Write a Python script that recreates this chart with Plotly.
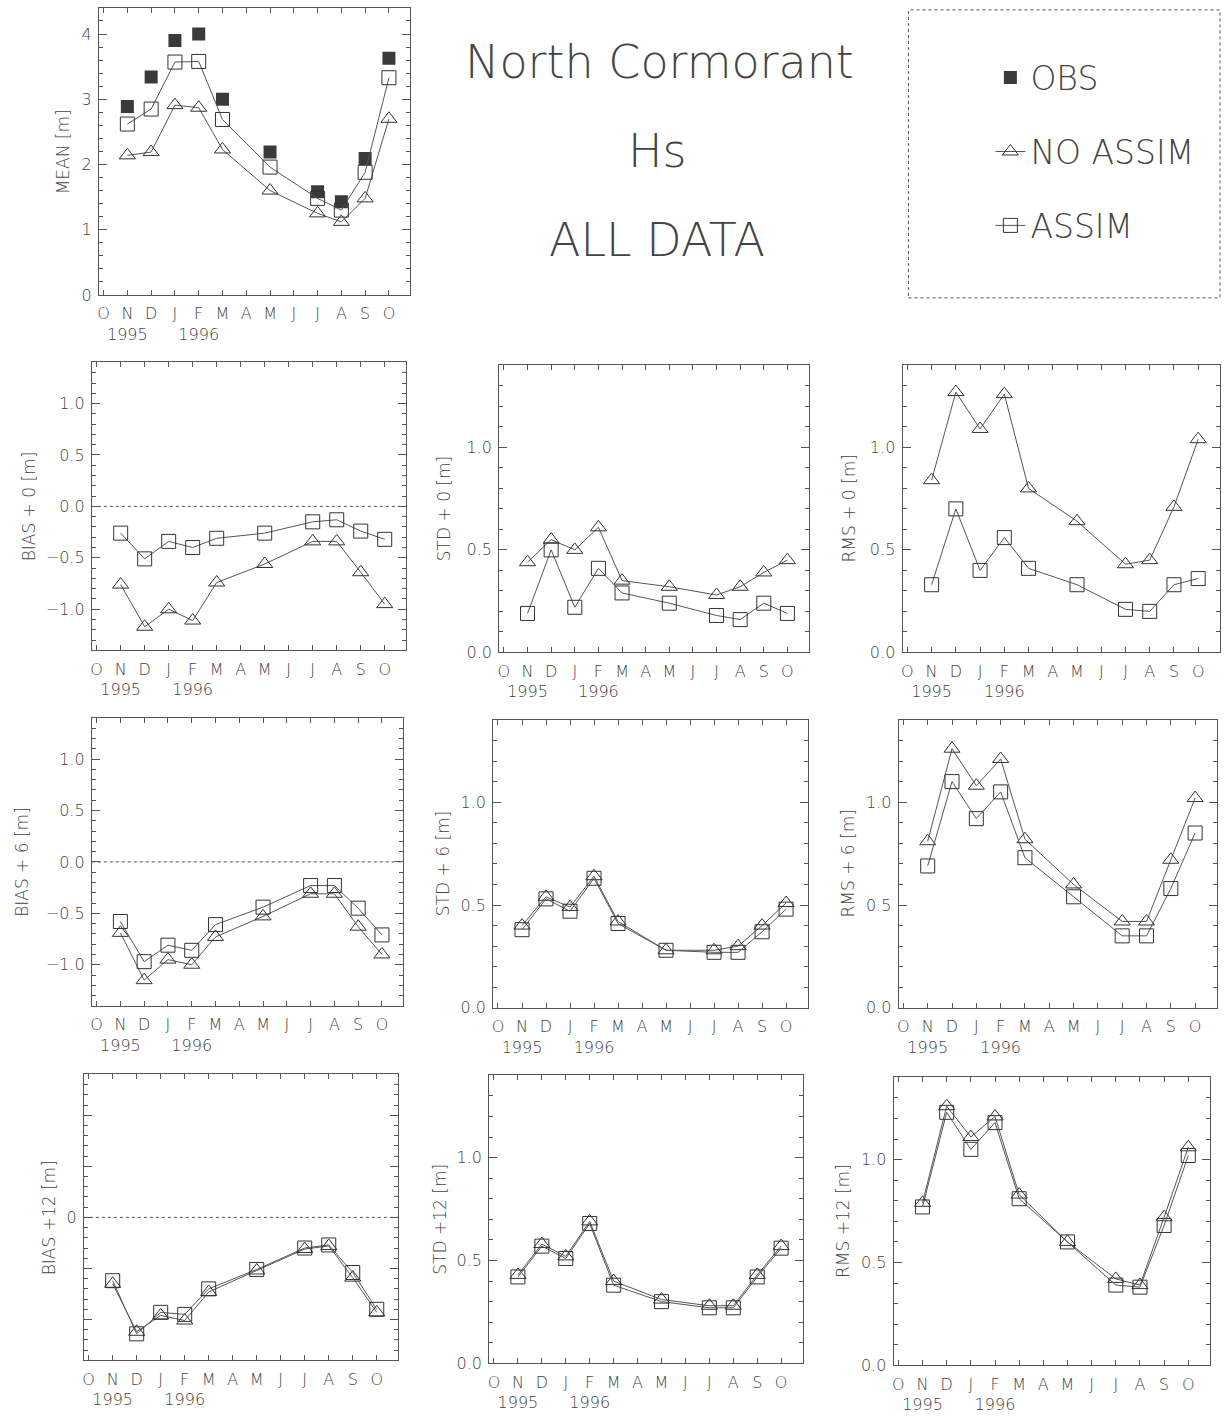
import plotly.graph_objects as go

W, H = 1224, 1421

# ---------------- data ----------------
month_labels = ["O", "N", "D", "J", "F", "M", "A", "M", "J", "J", "A", "S", "O"]
year_labels = ["", "1995", "", "", "1996", "", "", "", "", "", "", "", ""]
# months with data: N D J F M May Jul Aug Sep Oct (index into month_labels)
data_month_index = [1, 2, 3, 4, 5, 7, 9, 10, 11, 12]

mean_obs = [2.89, 3.34, 3.90, 4.00, 3.00, 2.19, 1.58, 1.43, 2.09, 3.63]
mean_noassim = [2.14, 2.19, 2.91, 2.87, 2.23, 1.60, 1.25, 1.12, 1.48, 2.70]
mean_assim = [2.62, 2.85, 3.57, 3.58, 2.69, 1.96, 1.48, 1.30, 1.88, 3.33]

bias0_noassim = [-0.76, -1.17, -1.00, -1.11, -0.74, -0.56, -0.34, -0.34, -0.64, -0.95]
bias0_assim = [-0.26, -0.51, -0.34, -0.40, -0.31, -0.26, -0.15, -0.13, -0.24, -0.32]
std0_noassim = [0.44, 0.55, 0.50, 0.61, 0.35, 0.32, 0.28, 0.32, 0.39, 0.45]
std0_assim = [0.19, 0.50, 0.22, 0.41, 0.29, 0.24, 0.18, 0.16, 0.24, 0.19]
rms0_noassim = [0.84, 1.27, 1.09, 1.26, 0.80, 0.64, 0.43, 0.45, 0.71, 1.04]
rms0_assim = [0.33, 0.70, 0.40, 0.56, 0.41, 0.33, 0.21, 0.20, 0.33, 0.36]

bias6_noassim = [-0.69, -1.15, -0.95, -1.00, -0.73, -0.53, -0.31, -0.31, -0.63, -0.90]
bias6_assim = [-0.58, -0.97, -0.81, -0.86, -0.61, -0.44, -0.23, -0.23, -0.45, -0.71]
std6_noassim = [0.40, 0.54, 0.49, 0.64, 0.42, 0.28, 0.28, 0.30, 0.40, 0.51]
std6_assim = [0.38, 0.53, 0.47, 0.63, 0.41, 0.28, 0.27, 0.27, 0.37, 0.48]
rms6_noassim = [0.81, 1.26, 1.08, 1.21, 0.82, 0.60, 0.42, 0.42, 0.72, 1.02]
rms6_assim = [0.69, 1.10, 0.92, 1.05, 0.73, 0.54, 0.35, 0.35, 0.58, 0.85]

bias12_noassim = [-0.65, -1.12, -0.96, -1.01, -0.73, -0.52, -0.31, -0.28, -0.59, -0.93]
bias12_assim = [-0.62, -1.14, -0.93, -0.95, -0.70, -0.51, -0.30, -0.27, -0.54, -0.90]
std12_noassim = [0.43, 0.58, 0.52, 0.69, 0.40, 0.31, 0.28, 0.28, 0.43, 0.57]
std12_assim = [0.42, 0.57, 0.51, 0.68, 0.38, 0.30, 0.27, 0.27, 0.42, 0.56]
rms12_noassim = [0.79, 1.26, 1.11, 1.21, 0.83, 0.60, 0.42, 0.39, 0.72, 1.06]
rms12_assim = [0.77, 1.23, 1.05, 1.18, 0.81, 0.60, 0.39, 0.38, 0.68, 1.02]

# ---------------- styling / layout ----------------
FONT = "DejaVu Sans"
TXT = "#444444"
LINE = "#555555"
MARK = "#333333"
WEIGHT = 200

bias_ticks = [-1.0, -0.5, 0.0, 0.5, 1.0]
bias_text = ["\u22121.0", "\u22120.5", "0.0", "0.5", "1.0"]
pos_ticks = [0.0, 0.5, 1.0]
pos_text = ["0.0", "0.5", "1.0"]

# (title, box px x0,x1,y0,y1, title x px, yrange, tickvals, ticktext, minor, zero line, noassim, assim, obs)
panels = [
    ("MEAN [m]", (97, 409, 8, 297), 62, [0, 4.4], [0, 1, 2, 3, 4], ["0", "1", "2", "3", "4"], 0.2, False,
     mean_noassim, mean_assim, mean_obs),
    ("BIAS + 0 [m]", (90, 405, 365, 655), 27, [-1.4, 1.4], bias_ticks, bias_text, 0.1, True,
     bias0_noassim, bias0_assim, None),
    ("STD + 0 [m]", (498, 808, 368, 657), 443, [0, 1.4], pos_ticks, pos_text, 0.1, False,
     std0_noassim, std0_assim, None),
    ("RMS + 0 [m]", (902, 1220, 368, 657), 848, [0, 1.4], pos_ticks, pos_text, 0.1, False,
     rms0_noassim, rms0_assim, None),
    ("BIAS + 6 [m]", (90, 402, 723, 1013), 20, [-1.4, 1.4], bias_ticks, bias_text, 0.1, True,
     bias6_noassim, bias6_assim, None),
    ("STD + 6 [m]", (492, 807, 725, 1015), 442, [0, 1.4], pos_ticks, pos_text, 0.1, False,
     std6_noassim, std6_assim, None),
    ("RMS + 6 [m]", (898, 1217, 725, 1015), 847, [0, 1.4], pos_ticks, pos_text, 0.1, False,
     rms6_noassim, rms6_assim, None),
    ("BIAS +12 [m]", (82, 397, 1082, 1370), 47, [-1.4, 1.4], bias_ticks, ["", "", "0", "", ""], 0.1, True,
     bias12_noassim, bias12_assim, None),
    ("STD +12 [m]", (488, 802, 1083, 1373), 439, [0, 1.4], pos_ticks, pos_text, 0.1, False,
     std12_noassim, std12_assim, None),
    ("RMS +12 [m]", (893, 1210, 1085, 1375), 843, [0, 1.4], pos_ticks, pos_text, 0.1, False,
     rms12_noassim, rms12_assim, None),
]

x_ticktext = [m + ("<br>" + y if y else "") for m, y in zip(month_labels, year_labels)]
x_tickvals = list(range(len(month_labels)))

fig = go.Figure()
annotations = []
shapes = []
layout_axes = {}

tickfont = dict(family=FONT, size=16, color=TXT, weight=WEIGHT)

for i, (title, box, tx, yr, tv, tt, minor, zero, noas, assim, obs) in enumerate(panels):
    n = "" if i == 0 else str(i + 1)
    xa, ya = "x" + n, "y" + n
    x0, x1, y0, y1 = box
    xdom = [x0 / W, x1 / W]
    ydom = [1 - y1 / H, 1 - y0 / H]
    layout_axes["xaxis" + n] = dict(
        domain=xdom, anchor=ya, range=[-0.2, 12.9], tickmode="array",
        tickvals=x_tickvals, ticktext=x_ticktext, ticks="inside", ticklen=5,
        tickangle=0, ticklabelstandoff=4,
        tickcolor=LINE, showline=True, linecolor=LINE, linewidth=1, mirror="ticks",
        showgrid=False, zeroline=False, tickfont=tickfont,
        fixedrange=True,
    )
    layout_axes["yaxis" + n] = dict(
        domain=ydom, anchor=xa, range=yr, tickmode="array", tickvals=tv, ticktext=tt,
        ticks="inside", ticklen=8, tickcolor=LINE, showline=True, linecolor=LINE,
        linewidth=1, mirror="ticks", showgrid=False, zeroline=False,
        tickfont=tickfont, ticklabelstandoff=3,
        minor=dict(ticks="inside", ticklen=4, dtick=minor, tickcolor=LINE, showgrid=False),
        fixedrange=True,
    )
    annotations.append(dict(
        text=title, x=tx / W, y=1 - (y0 + y1) / 2 / H, xref="paper", yref="paper",
        textangle=-90, showarrow=False, xanchor="center", yanchor="middle",
        font=dict(family=FONT, size=17, color=TXT, weight=WEIGHT),
    ))
    if zero:
        shapes.append(dict(type="line", xref=xa + " domain", yref=ya, x0=0, x1=1, y0=0, y1=0,
                           line=dict(color=LINE, width=1, dash="dot")))
    first = i == 0
    if obs is not None:
        fig.add_trace(go.Scatter(
            x=data_month_index, y=obs, xaxis=xa, yaxis=ya, mode="markers", name="OBS",
            legendgroup="obs", showlegend=first,
            marker=dict(symbol="square", size=13, color="#3a3a3a", line=dict(width=0)),
        ))
    fig.add_trace(go.Scatter(
        x=data_month_index, y=noas, xaxis=xa, yaxis=ya, mode="lines+markers", name="NO ASSIM",
        legendgroup="noassim", showlegend=first,
        line=dict(color=LINE, width=1),
        marker=dict(symbol="triangle-up-open", size=14, color=MARK, line=dict(width=1, color=MARK)),
    ))
    fig.add_trace(go.Scatter(
        x=data_month_index, y=assim, xaxis=xa, yaxis=ya, mode="lines+markers", name="ASSIM",
        legendgroup="assim", showlegend=first,
        line=dict(color=LINE, width=1),
        marker=dict(symbol="square-open", size=14, color=MARK, line=dict(width=1, color=MARK)),
    ))

# title block
for txt, cx, cy in [("North Cormorant", 659, 62), ("Hs", 657, 152), ("ALL DATA", 656, 242)]:
    annotations.append(dict(
        text=txt, x=cx / W, y=1 - cy / H, xref="paper", yref="paper", showarrow=False,
        xanchor="center", yanchor="middle",
        font=dict(family=FONT, size=46, color=TXT, weight=WEIGHT),
    ))

# legend box
shapes.append(dict(type="rect", xref="paper", yref="paper", x0=908 / W, x1=1220 / W,
                   y0=1 - 300 / H, y1=1 - 10 / H, line=dict(color=LINE, width=1, dash="dot")))

fig.update_layout(
    width=W, height=H, margin=dict(l=0, r=0, t=0, b=0),
    paper_bgcolor="white", plot_bgcolor="white",
    annotations=annotations, shapes=shapes,
    showlegend=True,
    legend=dict(x=990 / W, y=1 - 50 / H, xanchor="left", yanchor="top",
                bgcolor="rgba(0,0,0,0)", borderwidth=0, traceorder="grouped",
                tracegroupgap=28, itemsizing="trace",
                font=dict(family=FONT, size=33, color=TXT, weight=WEIGHT)),
    **layout_axes,
)

fig.write_html("out.html")
